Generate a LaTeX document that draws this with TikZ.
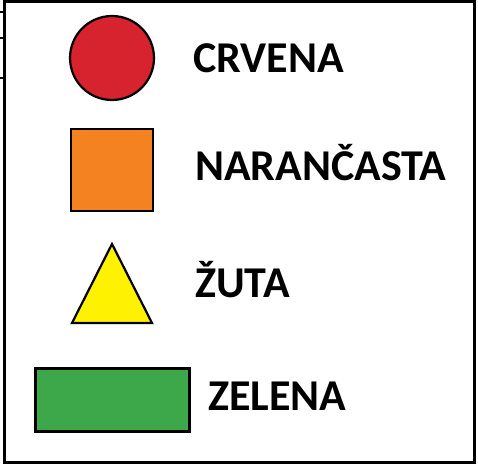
\documentclass[tikz,border=0pt]{standalone}
\usepackage{fontspec}
\setmainfont{Carlito}
\begin{document}
\begin{tikzpicture}[x=1pt,y=1pt,
  shapeline/.style={draw=black,line width=2.2pt},
  lbl/.style={anchor=base west,inner sep=0pt,font=\fontsize{44}{50}\selectfont\bfseries}]
\useasboundingbox (0,0) rectangle (478,466);
\fill[white] (0,0) rectangle (478,466);
\draw[line width=3pt] (4.5,3.5) rectangle (474.5,464);
\draw[line width=1.5pt] (0,454) -- (5,454) (0,428) -- (5,428) (0,388) -- (5,388);
% shapes
\node[shapeline,circle,fill={rgb,255:red,214;green,35;blue,45},minimum size=84pt,inner sep=0pt] (red) at (112,408) {};
\node[shapeline,rectangle,fill={rgb,255:red,245;green,130;blue,32},minimum width=82pt,minimum height=82pt,inner sep=0pt] (orange) at (112,296) {};
\coordinate (ta) at (112,222);
\coordinate (tl) at (72,143);
\coordinate (tr) at (152,143);
\draw[shapeline,fill={rgb,255:red,255;green,242;blue,0},line join=miter] (ta) -- (tr) -- (tl) -- cycle;
\node[shapeline,rectangle,fill={rgb,255:red,61;green,168;blue,74},minimum width=154pt,minimum height=63pt,inner sep=0pt] (green) at (112.5,66) {};
% labels
\node[lbl] (t1) at (193,393) {CRVENA};
\node[lbl] (t2) at (195,285) {NARANČASTA};
\node[lbl] (t3) at (195,169) {ŽUTA};
\node[lbl] (t4) at (208,56) {ZELENA};
\end{tikzpicture}
\end{document}
